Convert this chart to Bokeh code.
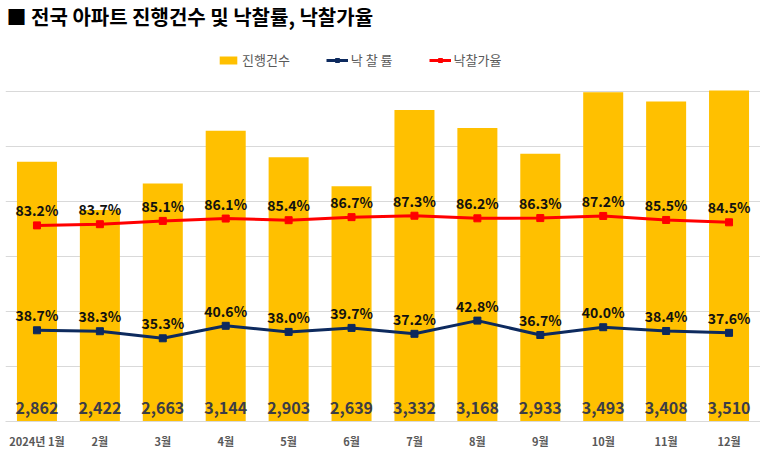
from bokeh.plotting import figure
from bokeh.models import (ColumnDataSource, FactorRange, Range1d, FixedTicker,
                          Legend, LegendItem, Label)
from bokeh.embed import file_html
from bokeh.resources import INLINE
from bokeh.core.properties import value

TITLE = "■ 전국 아파트 진행건수 및 낙찰률, 낙찰가율"
months = ["2024년 1월", "2월", "3월", "4월", "5월", "6월",
          "7월", "8월", "9월", "10월", "11월", "12월"]
counts = [2862, 2422, 2663, 3144, 2903, 2639, 3332, 3168, 2933, 3493, 3408, 3510]
win_rate = [38.7, 38.3, 35.3, 40.6, 38.0, 39.7, 37.2, 42.8, 36.7, 40.0, 38.4, 37.6]
price_rate = [83.2, 83.7, 85.1, 86.1, 85.4, 86.7, 87.3, 86.2, 86.3, 87.2, 85.5, 84.5]

# gridded value area: counts 500..3500, percent 0..140
count_min, count_grid_top, count_step = 500, 3500, 500
pct_min, pct_grid_top = 0, 140

# layout (px): frame spans 0..421 (title & legend live in its top part),
# the gridded area spans 91..421
FRAME_TOP, GRID_TOP, FRAME_BOTTOM = 0, 91, 421
stretch = (FRAME_BOTTOM - FRAME_TOP) / (FRAME_BOTTOM - GRID_TOP)
count_end = count_min + (count_grid_top - count_min) * stretch
pct_end = pct_min + (pct_grid_top - pct_min) * stretch

W, H = 760, 452

FONT = "Noto Sans CJK KR"
BAR = "#FFC000"
NAVY = "#0D2A5E"
RED = "#FF0000"

src = ColumnDataSource(dict(
    m=months, c=counts, w=win_rate, pr=price_rate,
    base=[count_min] * len(months),
    c_lbl=[f"{v:,}" for v in counts],
    w_lbl=[f"{v:.1f}%" for v in win_rate],
    pr_lbl=[f"{v:.1f}%" for v in price_rate],
))

p = figure(width=W, height=H, x_range=FactorRange(*months, range_padding=0),
           y_range=Range1d(count_min, count_end), output_backend="svg",
           toolbar_location=None, min_border_left=5, min_border_right=0,
           min_border_top=FRAME_TOP, min_border_bottom=H - FRAME_BOTTOM)
p.outline_line_color = None
p.extra_y_ranges = {"pct": Range1d(pct_min, pct_end)}

title = Label(x=1, y=FRAME_BOTTOM - 16, x_units="screen", y_units="screen",
              text=TITLE, text_font=FONT, text_font_size="20px",
              text_font_style="bold", text_color="#000000",
              text_align="left", text_baseline="middle")
p.add_layout(title)

bars = p.vbar(x="m", top="c", bottom=0, width=0.636, source=src,
              fill_color=BAR, line_color=None)

nl = p.line(x="m", y="w", source=src, y_range_name="pct", line_color=NAVY, line_width=3)
ns = p.scatter(x="m", y="w", source=src, y_range_name="pct", marker="square", size=7,
               fill_color=NAVY, line_color=NAVY)
rl = p.line(x="m", y="pr", source=src, y_range_name="pct", line_color=RED, line_width=3)
rs = p.scatter(x="m", y="pr", source=src, y_range_name="pct", marker="square", size=7,
               fill_color=RED, line_color=RED)

p.text(x="m", y="base", text="c_lbl", source=src, text_font=value(FONT),
       text_font_size="16px", text_font_style="bold", text_color="#3C3C46",
       text_align="center", text_baseline="middle", y_offset=-14)
for col, lbl in (("w", "w_lbl"), ("pr", "pr_lbl")):
    p.text(x="m", y=col, text=lbl, source=src, y_range_name="pct",
           text_font=value(FONT), text_font_size="14px", text_font_style="bold",
           text_color="#111111", text_align="center", text_baseline="middle",
           y_offset=-15)

p.yaxis.visible = False
p.ygrid.ticker = FixedTicker(ticks=list(range(count_min, count_grid_top + 1, count_step)))
p.ygrid.grid_line_color = "#D9D9D9"
p.xgrid.grid_line_color = None

xa = p.xaxis[0]
xa.axis_line_color = "#D9D9D9"
xa.major_tick_line_color = None
xa.minor_tick_line_color = None
xa.major_tick_out = 0
xa.major_tick_in = 0
xa.major_label_standoff = 11
xa.major_label_text_font = FONT
xa.major_label_text_font_size = "11px"
xa.major_label_text_font_style = "bold"
xa.major_label_text_color = "#595959"

legend = Legend(items=[
    LegendItem(label="진행건수", renderers=[bars]),
    LegendItem(label="낙 찰 률", renderers=[nl, ns]),
    LegendItem(label="낙찰가율", renderers=[rl, rs]),
], orientation="horizontal", location=(212, 352))
legend.border_line_color = None
legend.background_fill_alpha = 0
legend.label_text_font = FONT
legend.label_text_font_size = "13px"
legend.label_text_color = "#595959"
legend.glyph_width = 22
legend.glyph_height = 10
legend.label_standoff = 3
legend.spacing = 36
legend.padding = 0
legend.margin = 0
p.add_layout(legend, "center")

open("out.html", "w").write(file_html(p, INLINE))
